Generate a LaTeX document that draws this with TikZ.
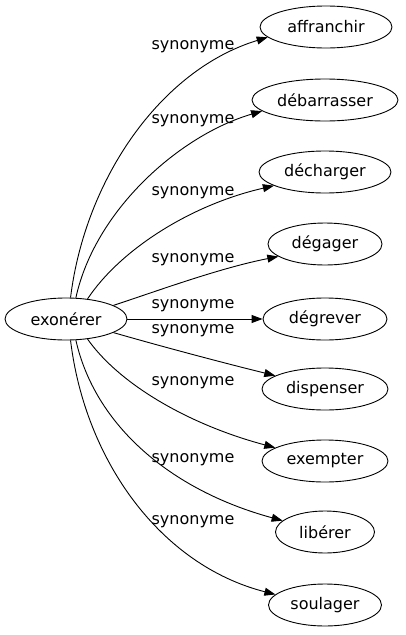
\documentclass[tikz,border=0pt]{standalone}
\usepackage{fontspec}
\setmainfont{DejaVu Sans}
\usetikzlibrary{shapes.geometric,arrows.meta}
\begin{document}
\begin{tikzpicture}[x=1pt,y=-1pt,
  word/.style={draw,ellipse,line width=0.9pt,inner sep=0pt,minimum height=42pt,font=\fontsize{16}{19}\selectfont},
  rel/.style={font=\fontsize{16}{19}\selectfont,inner sep=0pt},
  edge/.style={line width=0.9pt,-{Triangle[length=11pt,width=8pt]}}]
\useasboundingbox (0,0) rectangle (405,635);
\node[word,minimum width=122pt] (src) at (66,319) {exonérer};
\node[word,minimum width=132pt] (t1) at (326,27) {affranchir};
\node[word,minimum width=146pt] (t2) at (325,100) {débarrasser};
\node[word,minimum width=132pt] (t3) at (325,172) {décharger};
\node[word,minimum width=114pt] (t4) at (325,244) {dégager};
\node[word,minimum width=124pt] (t5) at (325,319) {dégrever};
\node[word,minimum width=126pt] (t6) at (325,389) {dispenser};
\node[word,minimum width=126pt] (t7) at (325,461) {exempter};
\node[word,minimum width=99pt] (t8) at (325,532) {libérer};
\node[word,minimum width=113pt] (t9) at (325,605) {soulager};
\node[rel] (l1) at (193,47) {synonyme};
\node[rel] (l2) at (193,121) {synonyme};
\node[rel] (l3) at (193,193) {synonyme};
\node[rel] (l4) at (193,260) {synonyme};
\node[rel] (l5) at (193,306) {synonyme};
\node[rel] (l6) at (193,331) {synonyme};
\node[rel] (l7) at (193,383) {synonyme};
\node[rel] (l8) at (193,460) {synonyme};
\node[rel] (l9) at (193,522) {synonyme};
\draw[edge] (src.78) .. controls (85,180) and (160,70) .. (t1.190);
\draw[edge] (src.65) .. controls (95,210) and (180,135) .. (t2.190);
\draw[edge] (src.43) .. controls (120,250) and (190,205) .. (t3.195);
\draw[edge] (src.16) .. controls (160,290) and (220,268) .. (t4.195);
\draw[edge] (src.east) -- (t5.west);
\draw[edge] (src.-16) .. controls (160,346) and (220,362) .. (t6.165);
\draw[edge] (src.-43) .. controls (120,385) and (190,425) .. (t7.165);
\draw[edge] (src.-65) .. controls (95,425) and (170,490) .. (t8.165);
\draw[edge] (src.-78) .. controls (85,460) and (160,565) .. (t9.168);
\end{tikzpicture}
\end{document}
